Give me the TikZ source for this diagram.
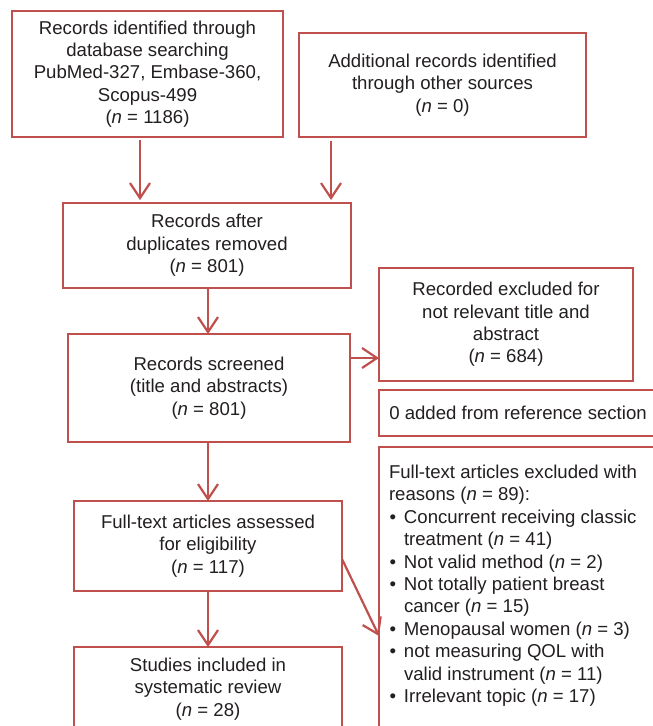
\documentclass[tikz,border=0pt]{standalone}
\usepackage{fontspec}
\setmainfont{Liberation Sans}
\usetikzlibrary{arrows.meta,calc}
\definecolor{myred}{HTML}{C0504D}
\definecolor{mytext}{HTML}{231F20}
\newcommand\bul{\makebox[15pt][l]{\hspace{0.5pt}•}}
\newcommand\ind{\hspace{15pt}}
\begin{document}
\begin{tikzpicture}[x=1pt,y=-1pt,
  box/.style={draw=myred, line width=2.2pt, inner sep=0pt, outer sep=0pt,
    align=center, anchor=north west, text=mytext,
    font=\fontsize{18.6pt}{22.4pt}\selectfont},
  arr/.style={draw=myred, line width=2.2pt, -{Straight Barb[length=15pt,width=20pt]}}]
\useasboundingbox (0,0) rectangle (653,726);
\clip (0,0) rectangle (653,726);
\fill[white] (0,0) rectangle (653,726);
\node[box, minimum width=271pt, minimum height=126pt] (A) at (12,11)
  {Records identified through\\database searching\\PubMed-327, Embase-360,\\Scopus-499\\(\textit{n} = 1186)};
\node[box, minimum width=287pt, minimum height=104pt] (B) at (299,33)
  {Additional records identified\\through other sources\\(\textit{n} = 0)};
\node[box, minimum width=288pt, minimum height=85pt] (C) at (63,203)
  {Records after\\duplicates removed\\(\textit{n} = 801)};
\node[box, minimum width=282pt, minimum height=108pt] (D) at (68,334)
  {Records screened\\(title and abstracts)\\(\textit{n} = 801)};
\node[box, minimum width=254pt, minimum height=113pt] (E) at (379,268)
  {Recorded excluded for\\not relevant title and\\abstract\\(\textit{n} = 684)};
\node[box, minimum width=278pt, minimum height=46pt] (F) at (379,390)
  {0 added from reference section};
\node[box, minimum width=300pt, minimum height=300pt] (G) at (379,447) {};
\node[box, draw=none, align=left] (Gt) at (389,465)
  {Full-text articles excluded with\\
   reasons (\textit{n} = 89):\\
   \bul Concurrent receiving classic\\
   \ind treatment (\textit{n} = 41)\\
   \bul Not valid method (\textit{n} = 2)\\
   \bul Not totally patient breast\\
   \ind cancer (\textit{n} = 15)\\
   \bul Menopausal women (\textit{n} = 3)\\
   \bul not measuring QOL with\\
   \ind valid instrument (\textit{n} = 11)\\
   \bul Irrelevant topic (\textit{n} = 17)};
\node[box, minimum width=268pt, minimum height=90pt] (H) at (74,501)
  {Full-text articles assessed\\for eligibility\\(\textit{n} = 117)};
\node[box, minimum width=268pt, minimum height=84pt] (I) at (74,647)
  {Studies included in\\systematic review\\(\textit{n} = 28)};
% connectors
\draw[arr, shorten <=3pt, shorten >=3pt] (A.south -| 140,0) -- (C.north -| 140,0);
\draw[arr, shorten <=4pt, shorten >=3pt] (B.south -| 331,0) -- (C.north -| 331,0);
\draw[arr] (C.south -| 208,0) -- (D.north -| 208,0);
\draw[arr] (D.east |- 0,358) -- (E.west |- 0,358);
\draw[arr] (D.south -| 208,0) -- (H.north -| 208,0);
\draw[arr] (H.south -| 208,0) -- (I.north -| 208,0);
\draw[arr] ($(H.south east)+(0,-32)$) -- (G.west |- 0,636);
\end{tikzpicture}
\end{document}
